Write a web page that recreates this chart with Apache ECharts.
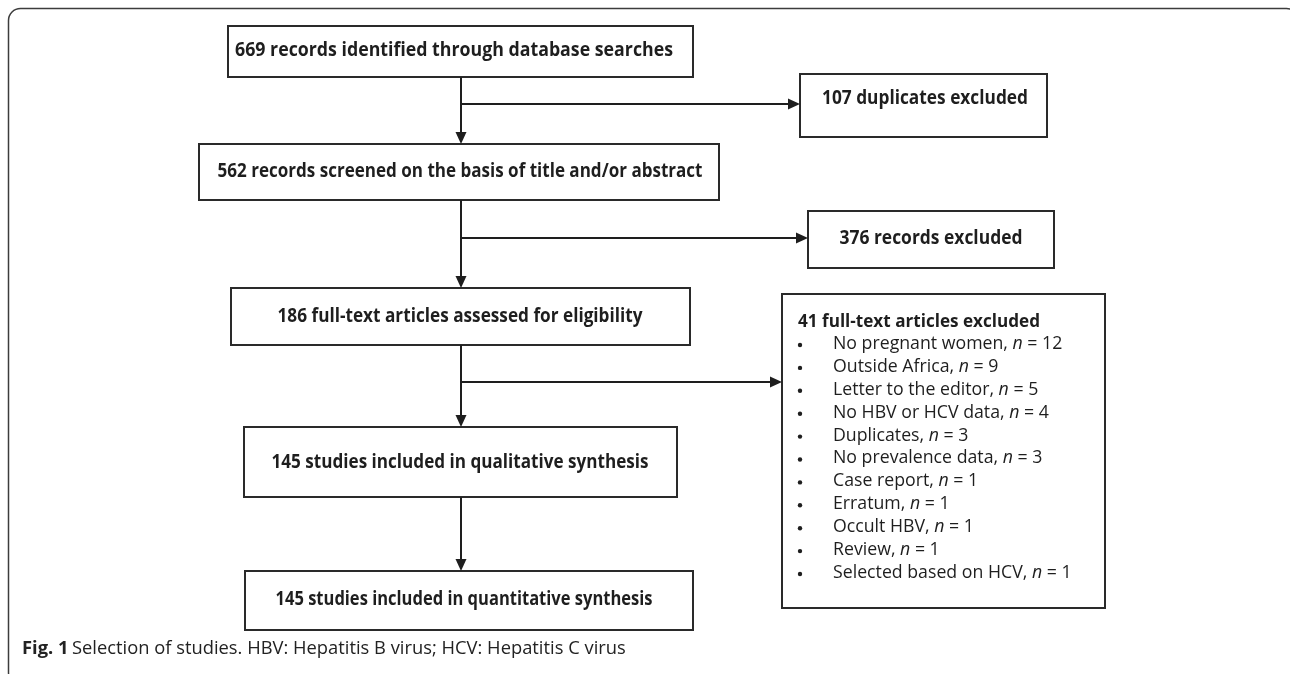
<!DOCTYPE html>
<html><head><meta charset="utf-8">
<script src="https://cdn.jsdelivr.net/npm/echarts@6/dist/echarts.min.js"></script>
<style>html,body{margin:0;padding:0;background:#fff}#c{width:1290px;height:674px}</style>
</head><body><div id="c"></div>
<script>
// ---- content ----
const boxLabels = [
  '669 records identified through database searches',
  '107 duplicates excluded',
  '562 records screened on the basis of title and/or abstract',
  '376 records excluded',
  '186 full-text articles assessed for eligibility',
  '145 studies included in qualitative synthesis',
  '145 studies included in quantitative synthesis'
];
const exclusionTitle = '41 full-text articles excluded';
const exclusionReasons = ['No pregnant women', 'Outside Africa', 'Letter to the editor', 'No HBV or HCV data',
  'Duplicates', 'No prevalence data', 'Case report', 'Erratum', 'Occult HBV', 'Review', 'Selected based on HCV'];
const exclusionCounts = [12, 9, 5, 4, 3, 3, 1, 1, 1, 1, 1];
const captionLead = 'Fig. 1';
const captionText = 'Selection of studies. HBV: Hepatitis B virus; HCV: Hepatitis C virus';

// ---- layout (pixels) ----
const boxLayout = [
  {x0:228, x1:693, y0:26,  y1:77,  tx:454, ty:51,  tw:438},
  {x0:800, x1:1047,y0:74,  y1:137, tx:925, ty:99,  tw:206},
  {x0:199, x1:719, y0:144, y1:200, tx:460, ty:172, tw:485},
  {x0:808, x1:1054,y0:211, y1:268, tx:931, ty:239, tw:183},
  {x0:231, x1:690, y0:288, y1:345, tx:460, ty:317, tw:365},
  {x0:244, x1:677, y0:427, y1:497, tx:460, ty:463, tw:377},
  {x0:245, x1:693, y0:571, y1:630, tx:464, ty:600, tw:377}
];
const exclBox = {x0:782, x1:1105, y0:294, y1:608, titleX:798, titleY:322, titleW:242,
  bulletX:800, textX:833, rowY0:344, rowDy:22.9, rowW:230};
const mainX = 461;
const vArrows = [[77,144],[200,288],[345,427],[497,571]];
const hArrows = [[104,800],[238,808],[382,782]];

const FONT = "'Open Sans', 'Noto Sans', sans-serif";
const INK = '#1e1e1e';
const cv = document.createElement('canvas').getContext('2d');
function measure(text, font){ cv.font = font; return cv.measureText(text).width; }

const BOLD = 19, REG = 17.5;
const g = [];
// outer frame
g.push({type:'rect', shape:{x:8.5, y:8.5, width:1290, height:676, r:12},
  style:{fill:null, stroke:'#3c3c3c', lineWidth:1.5}, z:1});

// boxes
boxLabels.forEach((lab, i) => {
  const b = boxLayout[i];
  g.push({type:'rect', shape:{x:b.x0, y:b.y0, width:b.x1-b.x0, height:b.y1-b.y0},
    style:{fill:'#fff', stroke:'#2a2a2a', lineWidth:2}, z:3});
  const font = 'bold ' + BOLD + 'px ' + FONT;
  const sx = b.tw / measure(lab, font);
  g.push({type:'text', x:b.tx, y:b.ty, scaleX:sx, z:5,
    style:{text:lab, fontSize:BOLD, fontWeight:'bold', fontFamily:FONT, fill:INK,
      align:'center', verticalAlign:'middle'}});
});

// exclusion box
g.push({type:'rect', shape:{x:exclBox.x0, y:exclBox.y0, width:exclBox.x1-exclBox.x0, height:exclBox.y1-exclBox.y0},
  style:{fill:'#fff', stroke:'#2a2a2a', lineWidth:2}, z:3});
{
  const font = 'bold ' + REG + 'px ' + FONT;
  const sx = exclBox.titleW / measure(exclusionTitle, font);
  g.push({type:'text', x:exclBox.titleX, y:exclBox.titleY, scaleX:sx, z:5,
    style:{text:exclusionTitle, fontSize:REG, fontWeight:'bold', fontFamily:FONT, fill:INK,
      align:'left', verticalAlign:'middle'}});
}
const itemFont = REG + 'px ' + FONT;
const itemScale = exclBox.rowW / measure(exclusionReasons[0] + ', n = ' + exclusionCounts[0], itemFont);
exclusionReasons.forEach((r, i) => {
  const y = exclBox.rowY0 + i * exclBox.rowDy;
  g.push({type:'circle', shape:{cx:exclBox.bulletX, cy:y+1, r:2.2}, style:{fill:INK}, z:5});
  g.push({type:'text', x:exclBox.textX, y:y, scaleX:itemScale, z:5,
    style:{text:'{a|' + r + ', }{i|n}{a| = ' + exclusionCounts[i] + '}',
      align:'left', verticalAlign:'middle', fill:INK,
      rich:{a:{fontSize:REG, fontFamily:FONT, fill:INK},
            i:{fontSize:REG, fontFamily:FONT, fontStyle:'italic', fill:INK}}}});
});

// connectors
const LW = 2;
vArrows.forEach(([ya, yb]) => {
  g.push({type:'line', shape:{x1:mainX, y1:ya, x2:mainX, y2:yb-9}, style:{stroke:INK, lineWidth:LW}, z:4});
  g.push({type:'polygon', shape:{points:[[mainX-5.5, yb-12],[mainX+5.5, yb-12],[mainX, yb]]}, style:{fill:INK}, z:4});
});
hArrows.forEach(([y, xb]) => {
  g.push({type:'line', shape:{x1:mainX, y1:y, x2:xb-9, y2:y}, style:{stroke:INK, lineWidth:LW}, z:4});
  g.push({type:'polygon', shape:{points:[[xb-12, y-5.5],[xb-12, y+5.5],[xb, y]]}, style:{fill:INK}, z:4});
});

// caption
{
  const capY = 649, capX = 22, capW = 605;
  const fb = 'bold ' + REG + 'px ' + FONT, fr = REG + 'px ' + FONT;
  const wLead = measure(captionLead + ' ', fb);
  const wRest = measure(captionText, fr);
  const sx = capW / (wLead + wRest);
  g.push({type:'text', x:capX, y:capY, scaleX:sx, z:5,
    style:{text:'{b|' + captionLead + '} {r|' + captionText + '}', align:'left', verticalAlign:'middle',
      rich:{b:{fontSize:REG, fontWeight:'bold', fontFamily:FONT, fill:'#222'},
            r:{fontSize:REG, fontFamily:FONT, fill:'#222'}}}});
}

const chart = echarts.init(document.getElementById('c'), null, {renderer:'canvas'});
chart.setOption({animation:false, backgroundColor:'#fff', graphic:{elements:g}});
</script></body></html>
